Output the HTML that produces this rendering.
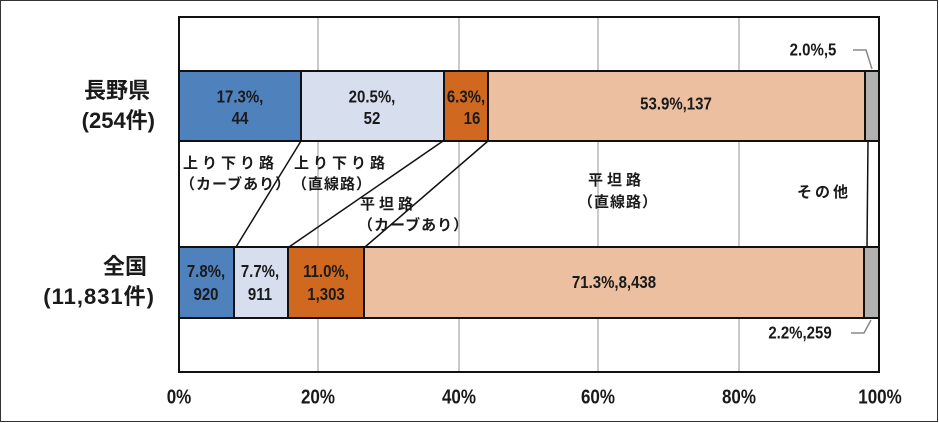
<!DOCTYPE html>
<html><head><meta charset="utf-8"><style>
html,body{margin:0;padding:0;background:#fff;}
svg{display:block;}
text{font-family:"Liberation Sans","Noto Sans CJK JP",sans-serif;font-weight:bold;fill:#1a1a1a;}
</style></head><body>
<svg width="939" height="423" viewBox="0 0 939 423" xmlns="http://www.w3.org/2000/svg">
<rect x="0.5" y="0.5" width="937" height="421" fill="#fff" stroke="#333" stroke-width="1"/>
<g stroke="#b8b8b8" stroke-width="1.5">
<line x1="318" y1="17" x2="318" y2="372"/>
<line x1="459" y1="17" x2="459" y2="372"/>
<line x1="598" y1="17" x2="598" y2="372"/>
<line x1="739" y1="17" x2="739" y2="372"/>
</g>
<g stroke="#111" stroke-width="2">
<rect x="179" y="71" width="122" height="70" fill="#4f81bd"/>
<rect x="301" y="71" width="143" height="70" fill="#d7dfee"/>
<rect x="444" y="71" width="44" height="70" fill="#d0691f"/>
<rect x="488" y="71" width="377" height="70" fill="#ecbfa0"/>
<rect x="865" y="71" width="14" height="70" fill="#b3b0b0"/>
<rect x="179" y="247" width="55" height="71" fill="#4f81bd"/>
<rect x="234" y="247" width="54" height="71" fill="#d7dfee"/>
<rect x="288" y="247" width="76" height="71" fill="#d0691f"/>
<rect x="364" y="247" width="500" height="71" fill="#ecbfa0"/>
<rect x="864" y="247" width="15" height="71" fill="#b3b0b0"/>
</g>
<g stroke="#111" stroke-width="1.5">
<line x1="301" y1="141" x2="236" y2="247"/>
<line x1="443" y1="141" x2="289" y2="247"/>
<line x1="488" y1="141" x2="365" y2="247"/>
<line x1="868" y1="141" x2="867" y2="247"/>
</g>
<rect x="179" y="17" width="700" height="355" fill="none" stroke="#111" stroke-width="2"/>
<g stroke="#888" stroke-width="1.5" fill="none">
<polyline points="853,50 866,50 872,69"/>
<polyline points="851,333 864,333 871,320"/>
</g>
<g font-size="15" text-anchor="middle">
<text x="240" y="102" transform="translate(0,-17) scale(1,1.17)">17.3%,</text><text x="240" y="124" transform="translate(0,-21) scale(1,1.17)">44</text>
<text x="372" y="102" transform="translate(0,-17) scale(1,1.17)">20.5%,</text><text x="372" y="124" transform="translate(0,-21) scale(1,1.17)">52</text>
<text x="466" y="102" transform="translate(0,-17) scale(1,1.17)">6.3%,</text><text x="472" y="124" transform="translate(0,-21) scale(1,1.17)">16</text>
<text x="676" y="110" transform="translate(0,-19) scale(1,1.17)">53.9%,137</text>
<text x="206" y="277" transform="translate(0,-47) scale(1,1.17)">7.8%,</text><text x="206" y="300" transform="translate(0,-51) scale(1,1.17)">920</text>
<text x="260" y="277" transform="translate(0,-47) scale(1,1.17)">7.7%,</text><text x="260" y="300" transform="translate(0,-51) scale(1,1.17)">911</text>
<text x="326" y="277" transform="translate(0,-47) scale(1,1.17)">11.0%,</text><text x="326" y="300" transform="translate(0,-51) scale(1,1.17)">1,303</text>
<text x="614" y="288" transform="translate(0,-49) scale(1,1.17)">71.3%,8,438</text>
<text x="813" y="56" transform="translate(0,-10) scale(1,1.17)">2.0%,5</text>
<text x="800" y="339" transform="translate(0,-58) scale(1,1.17)">2.2%,259</text>
</g>
<g font-size="15">
<text x="183" y="168" letter-spacing="4">上り下り路</text>
<text x="180" y="189" letter-spacing="1">（カーブあり）</text>
<text x="294" y="168" letter-spacing="4">上り下り路</text>
<text x="292" y="189" letter-spacing="1">（直線路）</text>
<text x="360" y="209" letter-spacing="4">平坦路</text>
<text x="358" y="230" letter-spacing="1">（カーブあり）</text>
<text x="588" y="185" letter-spacing="4">平坦路</text>
<text x="578" y="207" letter-spacing="1">（直線路）</text>
<text x="797" y="197" letter-spacing="3">その他</text>
</g>
<g font-size="22" text-anchor="end">
<text x="150" y="98">長野県</text>
<text x="155" y="128">(254件)</text>
<text x="147" y="274">全国</text>
<text x="155" y="304" letter-spacing="1">(11,831件)</text>
</g>
<g font-size="17" text-anchor="middle">
<text x="179" y="404" transform="translate(0,-69) scale(1,1.17)">0%</text>
<text x="318" y="404" transform="translate(0,-69) scale(1,1.17)">20%</text>
<text x="459" y="404" transform="translate(0,-69) scale(1,1.17)">40%</text>
<text x="598" y="404" transform="translate(0,-69) scale(1,1.17)">60%</text>
<text x="739" y="404" transform="translate(0,-69) scale(1,1.17)">80%</text>
<text x="880" y="404" transform="translate(0,-69) scale(1,1.17)">100%</text>
</g>
</svg>
</body></html>
